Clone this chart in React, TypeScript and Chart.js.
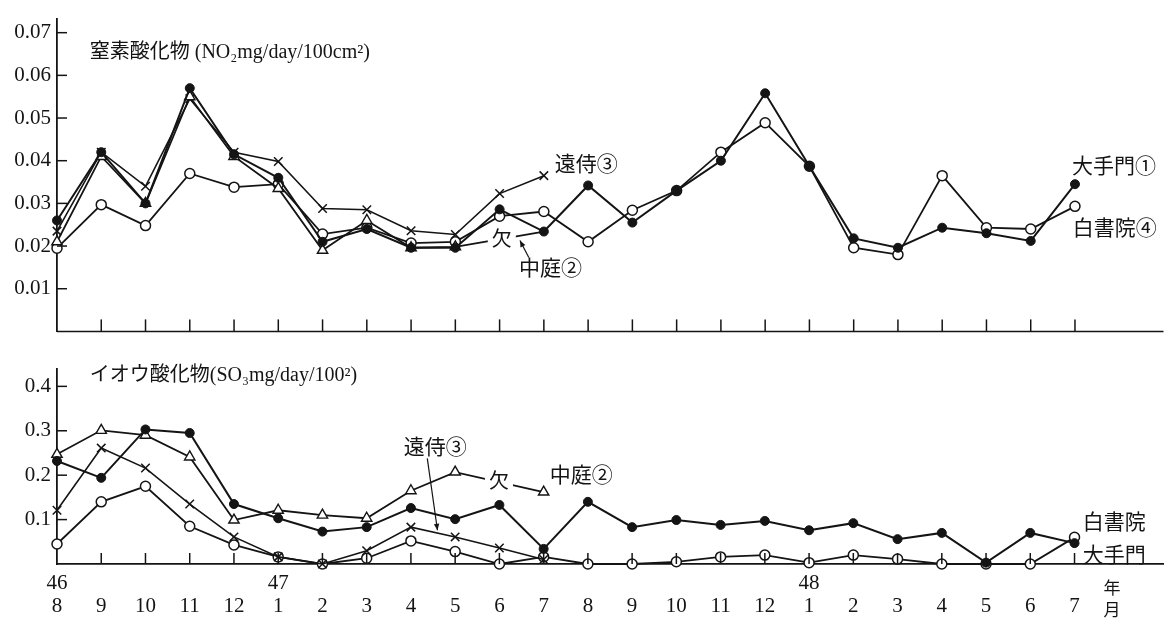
import React, { useEffect, useRef } from 'react';
import { Chart, registerables } from 'chart.js';

Chart.register(...registerables);

// ---- categories (昭和46年8月 〜 48年7月) ----
const months = ['8', '9', '10', '11', '12', '1', '2', '3', '4', '5', '6', '7', '8', '9', '10', '11', '12', '1', '2', '3', '4', '5', '6', '7'];
const yearMarks: Record<number, string> = { 0: '46', 5: '47', 17: '48' };

// ---- 窒素酸化物 (NO2 mg/day/100cm2) ----
const noxOtemon = [0.026, 0.042, 0.030, 0.057, 0.0415, 0.036, 0.021, 0.024, 0.0196, 0.0196, 0.0286, 0.0234, 0.0342, 0.0255, 0.033, 0.040, 0.0558, 0.0387, 0.0218, 0.0196, 0.0243, 0.023, 0.0212, 0.0345];
const noxNakaniwa = [0.021, 0.041, 0.030, 0.055, 0.041, 0.0335, 0.019, 0.026, 0.0196, 0.0198, null, 0.0234, null, null, null, null, null, null, null, null, null, null, null, null];
const noxTozamurai = [0.0235, 0.042, 0.034, 0.0545, 0.042, 0.0398, 0.0288, 0.0285, 0.0236, 0.0227, 0.0323, 0.0365, null, null, null, null, null, null, null, null, null, null, null, null];
const noxShoin = [0.0195, 0.0297, 0.0248, 0.037, 0.0338, 0.0345, 0.0228, 0.0243, 0.0207, 0.021, 0.027, 0.0281, 0.021, 0.0284, 0.033, 0.042, 0.0489, 0.0387, 0.0196, 0.018, 0.0365, 0.0243, 0.024, 0.0293];
const noxTicks = [0.01, 0.02, 0.03, 0.04, 0.05, 0.06, 0.07];

// ---- イオウ酸化物 (SO3 mg/day/100cm2) ----
const soxOtemon = [0.232, 0.194, 0.303, 0.295, 0.135, 0.103, 0.073, 0.083, 0.126, 0.101, 0.133, 0.034, 0.14, 0.083, 0.099, 0.088, 0.097, 0.076, 0.092, 0.056, 0.07, 0.003, 0.07, 0.047];
const soxNakaniwa = [0.247, 0.301, 0.29, 0.241, 0.099, 0.121, 0.11, 0.103, 0.165, 0.207, null, 0.162, null, null, null, null, null, null, null, null, null, null, null, null];
const soxTozamurai = [0.121, 0.261, 0.216, 0.135, 0.061, 0.016, 0, 0.03, 0.083, 0.061, 0.036, 0.01, null, null, null, null, null, null, null, null, null, null, null, null];
const soxShoin = [0.045, 0.14, 0.175, 0.085, 0.043, 0.016, 0, 0.013, 0.052, 0.028, 0, 0.016, 0, 0, 0.005, 0.016, 0.02, 0.003, 0.02, 0.011, 0, 0, 0, 0.06];
const soxTicks = [0.1, 0.2, 0.3, 0.4];

const FONT = "'Liberation Serif', 'DejaVu Serif', 'Noto Sans CJK JP', serif";
const INK = '#141414';
const W = 1171;
const TOP_H = 350;
const BOT_H = 274;

type Note = { text: string; x: number; y: number; align?: CanvasTextAlign; size?: number; box?: boolean };
type Arrow = { x0: number; y0: number; x1: number; y1: number };

function makeDecor(notes: Note[], arrows: Arrow[], tickVals: number[], drawBase: boolean, tickLen: number) {
  return {
    id: 'decor',
    afterDraw(chart: any) {
      const { ctx, chartArea: a, scales } = chart;
      const x = scales.x;
      const y = scales.y;
      ctx.save();
      ctx.strokeStyle = INK;
      ctx.fillStyle = INK;
      ctx.lineWidth = 1.5;
      if (drawBase) {
        ctx.beginPath();
        ctx.moveTo(a.left, a.bottom);
        ctx.lineTo(a.right, a.bottom);
        ctx.stroke();
      }
      for (let i = 1; i < months.length; i++) {
        const px = x.getPixelForValue(i);
        ctx.beginPath();
        ctx.moveTo(px, a.bottom);
        ctx.lineTo(px, a.bottom - tickLen);
        ctx.stroke();
      }
      tickVals.forEach((v) => {
        const py = y.getPixelForValue(v);
        ctx.beginPath();
        ctx.moveTo(a.left, py);
        ctx.lineTo(a.left + 10, py);
        ctx.stroke();
      });
      ctx.lineWidth = 1.2;
      arrows.forEach((ar) => {
        const x0 = x.getPixelForValue(ar.x0);
        const y0 = y.getPixelForValue(ar.y0);
        const x1 = x.getPixelForValue(ar.x1);
        const y1 = y.getPixelForValue(ar.y1);
        ctx.beginPath();
        ctx.moveTo(x0, y0);
        ctx.lineTo(x1, y1);
        ctx.stroke();
        const ang = Math.atan2(y1 - y0, x1 - x0);
        const s = 7;
        ctx.beginPath();
        ctx.moveTo(x1, y1);
        ctx.lineTo(x1 - s * Math.cos(ang - 0.4), y1 - s * Math.sin(ang - 0.4));
        ctx.lineTo(x1 - s * Math.cos(ang + 0.4), y1 - s * Math.sin(ang + 0.4));
        ctx.closePath();
        ctx.fill();
      });
      notes.forEach((n) => {
        const px = x.getPixelForValue(n.x);
        const py = y.getPixelForValue(n.y);
        ctx.font = `${n.size ?? 21}px ${FONT}`;
        ctx.textAlign = n.align ?? 'center';
        ctx.textBaseline = 'middle';
        if (n.box) {
          const w = ctx.measureText(n.text).width;
          ctx.fillStyle = '#ffffff';
          ctx.fillRect(px - w / 2 - 4, py - 12, w + 8, 24);
          ctx.fillStyle = INK;
        }
        ctx.fillText(n.text, px, py);
      });
      ctx.restore();
    },
  };
}

const dashGap = (c: any) => (c.p1DataIndex - c.p0DataIndex > 1 ? [10, 7] : undefined);

function seriesSets(otemon: (number | null)[], nakaniwa: (number | null)[], tozamurai: (number | null)[], shoin: (number | null)[], hideNakaniwaEnd: boolean) {
  return [
    {
      label: '大手門①', data: otemon, borderColor: INK, borderWidth: 2, pointStyle: 'circle',
      pointRadius: 4.5, pointBackgroundColor: INK, pointBorderColor: INK, pointBorderWidth: 1,
    },
    {
      label: '中庭②', data: nakaniwa, borderColor: INK, borderWidth: 1.8, pointStyle: 'triangle',
      pointRadius: (c: any) => (hideNakaniwaEnd && c.dataIndex === 11 ? 0 : 6),
      pointBackgroundColor: '#ffffff', pointBorderColor: INK, pointBorderWidth: 1.4,
      spanGaps: true, segment: { borderDash: dashGap },
    },
    {
      label: '遠侍③', data: tozamurai, borderColor: INK, borderWidth: 1.6, pointStyle: 'crossRot',
      pointRadius: 6, pointBorderColor: INK, pointBorderWidth: 1.5,
    },
    {
      label: '白書院④', data: shoin, borderColor: INK, borderWidth: 1.8, pointStyle: 'circle',
      pointRadius: 5, pointBackgroundColor: '#ffffff', pointBorderColor: INK, pointBorderWidth: 1.5,
    },
  ].map((d) => ({ ...d, tension: 0, fill: false, clip: false as any }));
}

const yTickFont = { family: FONT, size: 21 };

export default function App() {
  const topRef = useRef<HTMLCanvasElement>(null);
  const botRef = useRef<HTMLCanvasElement>(null);

  useEffect(() => {
    const labels = months.map((_, i) => i);
    const topNotes: Note[] = [
      { text: '窒素酸化物 (NO₂mg/day/100cm²)', x: 0.74, y: 0.0653, align: 'left', size: 20 },
      { text: '遠侍③', x: 11.96, y: 0.0389 },
      { text: '大手門①', x: 23.88, y: 0.0384 },
      { text: '白書院④', x: 23.9, y: 0.0238 },
      { text: '中庭②', x: 11.15, y: 0.0144 },
      { text: '欠', x: 10.05, y: 0.0212, box: true, size: 20 },
    ];
    const topArrows: Arrow[] = [{ x0: 10.66, y0: 0.0173, x1: 10.46, y1: 0.0213 }];

    const top = new Chart(topRef.current!, {
      type: 'line',
      data: { labels, datasets: seriesSets(noxOtemon, noxNakaniwa, noxTozamurai, noxShoin, true) as any },
      options: {
        animation: false,
        responsive: false,
        devicePixelRatio: 1,
        parsing: undefined,
        layout: { padding: { top: 10, bottom: 10, left: 0, right: 0 } },
        plugins: { legend: { display: false }, tooltip: { enabled: false } },
        scales: {
          x: { type: 'linear', min: 0, max: 25, display: false },
          y: {
            min: 0, max: 0.0733,
            grid: { display: false, drawTicks: false, tickLength: 0 },
            border: { display: true, color: INK, width: 1.8 },
            ticks: {
              stepSize: 0.01, includeBounds: false, padding: 6, color: INK, font: yTickFont,
              callback: (v: any) => (v > 0.005 ? Number(v).toFixed(2) : ''),
            },
            afterFit: (s: any) => { s.width = 57; },
          },
        },
      } as any,
      plugins: [makeDecor(topNotes, topArrows, noxTicks, true, 12)],
    });

    const botNotes: Note[] = [
      { text: 'イオウ酸化物(SO₃mg/day/100²)', x: 0.74, y: 0.425, align: 'left', size: 20 },
      { text: '遠侍③', x: 8.55, y: 0.261 },
      { text: '欠', x: 9.99, y: 0.184, box: true, size: 20 },
      { text: '中庭②', x: 11.85, y: 0.196 },
      { text: '白書院', x: 23.9, y: 0.092 },
      { text: '大手門', x: 23.9, y: 0.016 },
      { text: '年', x: 23.85, y: -0.058, size: 17 },
      { text: '月', x: 23.85, y: -0.108, size: 17 },
    ];
    const botArrows: Arrow[] = [{ x0: 8.37, y0: 0.238, x1: 8.6, y1: 0.076 }];

    const bot = new Chart(botRef.current!, {
      type: 'line',
      data: { labels, datasets: seriesSets(soxOtemon, soxNakaniwa, soxTozamurai, soxShoin, false) as any },
      options: {
        animation: false,
        responsive: false,
        devicePixelRatio: 1,
        layout: { padding: { top: 18, bottom: 0, left: 0, right: 0 } },
        plugins: { legend: { display: false }, tooltip: { enabled: false } },
        scales: {
          x: {
            type: 'linear', min: 0, max: 25, position: 'bottom',
            grid: { display: false, drawTicks: false, tickLength: 0 },
            border: { display: true, color: INK, width: 1.8 },
            ticks: {
              stepSize: 1, autoSkip: false, maxRotation: 0, includeBounds: false, padding: 8, color: INK,
              font: { family: FONT, size: 21, lineHeight: 1.1 },
              callback: (v: any) => {
                const i = Number(v);
                if (!Number.isInteger(i) || i < 0 || i >= months.length) return '';
                return [yearMarks[i] ?? '', months[i]];
              },
            },
            afterFit: (s: any) => { s.height = 60; },
          },
          y: {
            min: 0, max: 0.44,
            grid: { display: false, drawTicks: false, tickLength: 0 },
            border: { display: true, color: INK, width: 1.8 },
            ticks: {
              stepSize: 0.1, includeBounds: false, padding: 6, color: INK, font: yTickFont,
              callback: (v: any) => (v > 0.05 ? Number(v).toFixed(1) : ''),
            },
            afterFit: (s: any) => { s.width = 57; },
          },
        },
      } as any,
      plugins: [makeDecor(botNotes, botArrows, soxTicks, false, 11)],
    });

    return () => {
      top.destroy();
      bot.destroy();
    };
  }, []);

  return (
    <div style={{ position: 'absolute', left: 0, top: 0, width: W, height: TOP_H + BOT_H, background: '#fff' }}>
      <canvas ref={topRef} width={W} height={TOP_H} style={{ position: 'absolute', left: 0, top: 0, width: W, height: TOP_H, display: 'block' }} />
      <canvas ref={botRef} width={W} height={BOT_H} style={{ position: 'absolute', left: 0, top: TOP_H, width: W, height: BOT_H, display: 'block' }} />
    </div>
  );
}
